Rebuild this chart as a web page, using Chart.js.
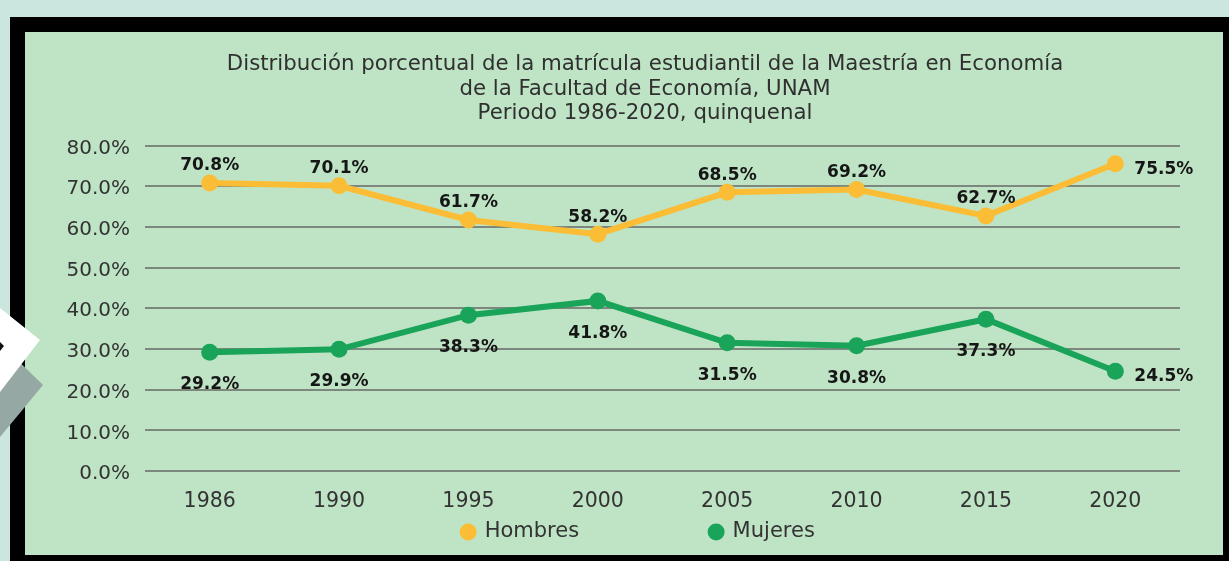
<!DOCTYPE html>
<html>
<head>
<meta charset="utf-8">
<script src="https://cdn.jsdelivr.net/npm/chart.js@4.4.0/dist/chart.umd.min.js"></script>
<style>
  html, body { margin: 0; padding: 0; }
  body { width: 1229px; height: 561px; background: #cbe6df; position: relative; overflow: hidden; }
  #frame { position: absolute; left: 10px; top: 17px; width: 1219px; height: 544px; background: #000; }
  #panel { position: absolute; left: 25px; top: 32px; width: 1198px; height: 523px; background: #bfe4c5; }
  #grey { position: absolute; left: 0; top: 0; width: 60px; height: 561px; background: #95a8a3;
          clip-path: polygon(0px 343px, 43px 385px, 0px 437px); }
  #white { position: absolute; left: 0; top: 0; width: 60px; height: 561px; background: #ffffff;
           clip-path: polygon(0px 308px, 40px 340px, 0px 392px); }
  #mark { position: absolute; left: 0; top: 0; width: 60px; height: 561px; background: #111;
          clip-path: polygon(0px 342px, 4px 346px, 0px 351px); }
  canvas { position: absolute; left: 25px; top: 32px; }
</style>
</head>
<body>
<div id="frame"></div>
<div id="panel"></div>
<div id="grey"></div>
<div id="white"></div>
<div id="mark"></div>
<canvas id="c" width="1198" height="523" style="width:1198px;height:523px"></canvas>
<script>
const years = ['1986', '1990', '1995', '2000', '2005', '2010', '2015', '2020'];
const hombres = [70.8, 70.1, 61.7, 58.2, 68.5, 69.2, 62.7, 75.5];
const mujeres = [29.2, 29.9, 38.3, 41.8, 31.5, 30.8, 37.3, 24.5];
const seriesNames = ['Hombres', 'Mujeres'];
const titleLines = [
  'Distribución porcentual de la matrícula estudiantil de la Maestría en Economía',
  'de la Facultad de Economía, UNAM',
  'Periodo 1986-2020, quinquenal'
];
const yMin = 0, yMax = 80, yStep = 10;

const FONT = '"DejaVu Sans", sans-serif';
Chart.defaults.font.family = FONT;
Chart.defaults.color = '#333333';

const LEGEND_PAD = 131;
const LEGEND_FS = 21;
const LEGEND_CENTER_Y = 500;
const LEGEND_LEFT = 72;
const TITLE_LEFT = 85, TITLE_RIGHT = 1155;

const valueLabels = {
  id: 'valueLabels',
  afterDatasetsDraw(chart) {
    const ctx = chart.ctx;
    ctx.save();
    ctx.font = 'bold 17px ' + FONT;
    ctx.fillStyle = '#161616';
    chart.data.datasets.forEach((ds, di) => {
      const meta = chart.getDatasetMeta(di);
      const n = meta.data.length;
      meta.data.forEach((pt, i) => {
        const txt = ds.data[i].toFixed(1) + '%';
        ctx.textBaseline = 'middle';
        if (i === n - 1) {
          ctx.textAlign = 'left';
          ctx.fillText(txt, pt.x + 19, pt.y + 5.5);
        } else if (ds.labelSide === 'top') {
          ctx.textAlign = 'center';
          ctx.fillText(txt, pt.x, pt.y - 17);
        } else {
          ctx.textAlign = 'center';
          ctx.fillText(txt, pt.x, pt.y + 32.5);
        }
      });
    });
    ctx.restore();
  }
};

const boxPlace = {
  id: 'boxPlace',
  beforeDraw(chart) {
    const lg = chart.legend;
    if (lg) {
      lg.top = LEGEND_CENTER_Y - LEGEND_PAD - LEGEND_FS / 2;
      lg.left = LEGEND_LEFT;
    }
    const tb = chart.titleBlock;
    if (tb) { tb.left = TITLE_LEFT; tb.right = TITLE_RIGHT; }
  }
};

new Chart(document.getElementById('c'), {
  type: 'line',
  data: {
    labels: years,
    datasets: [
      { label: seriesNames[0], data: hombres, borderColor: '#fbbd35', backgroundColor: '#fbbd35',
        borderWidth: 6, pointRadius: 8.5, pointHoverRadius: 8.5, pointBorderWidth: 0, labelSide: 'top' },
      { label: seriesNames[1], data: mujeres, borderColor: '#19a45a', backgroundColor: '#19a45a',
        borderWidth: 6, pointRadius: 8.5, pointHoverRadius: 8.5, pointBorderWidth: 0, labelSide: 'bottom' }
    ]
  },
  options: {
    responsive: false,
    devicePixelRatio: 1,
    animation: false,
    layout: { padding: { left: 20, right: 43, top: 0, bottom: 0 } },
    plugins: {
      title: {
        display: true,
        text: titleLines,
        color: '#303030',
        font: { size: 21.3, weight: 'normal', lineHeight: '24.5px' },
        padding: { top: 20.25, bottom: 19.75 }
      },
      legend: {
        position: 'bottom',
        maxHeight: 40,
        labels: {
          usePointStyle: true,
          pointStyle: 'circle',
          boxWidth: 12, boxHeight: 12,
          padding: LEGEND_PAD,
          color: '#333333',
          font: { size: LEGEND_FS }
        }
      },
      tooltip: { enabled: false }
    },
    scales: {
      x: {
        offset: true,
        grid: { display: false },
        border: { display: false },
        ticks: { padding: 10, color: '#333333', font: { size: 20.5 } },
        afterFit(scale) { scale.height = 44; }
      },
      y: {
        min: yMin, max: yMax,
        grid: { color: '#7d877d', lineWidth: 2, drawTicks: false },
        border: { display: false },
        ticks: { stepSize: yStep, padding: 15, labelOffset: 3, color: '#333333', font: { size: 20 },
                 callback: v => Number(v).toFixed(1) + '%' },
        afterFit(scale) { scale.width = 100; }
      }
    }
  },
  plugins: [valueLabels, boxPlace]
});
</script>
</body>
</html>
